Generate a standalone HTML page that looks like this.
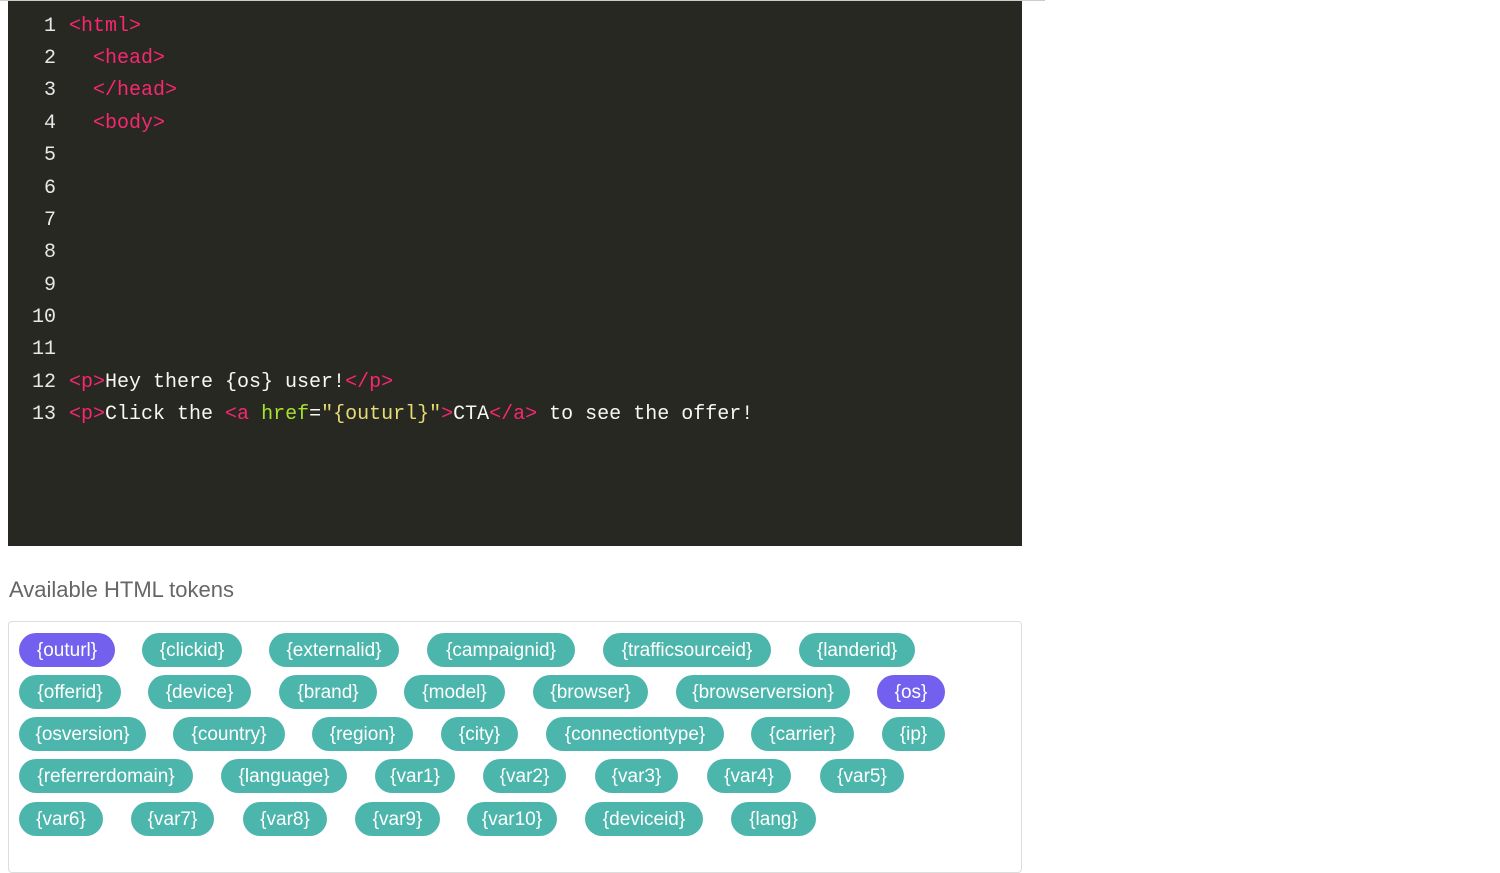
<!DOCTYPE html>
<html><head><meta charset="utf-8"><style>
body{margin:0;width:1500px;height:860px;background:#fff;position:relative;overflow:hidden;font-family:"Liberation Sans",sans-serif}
#topline{position:absolute;left:0;top:0;width:1045px;height:1px;background:#ccc}
#code{position:absolute;left:8px;top:1px;width:1014px;height:545px;background:#272822}
.ln{position:absolute;left:6px;width:50px;text-align:right;color:#e8e8e8;font:20px/32.4px "Liberation Mono",monospace}
.tx{position:absolute;left:69px;white-space:pre;color:#f8f8f2;font:20px/32.4px "Liberation Mono",monospace}
.t{color:#f92672}.a{color:#a6e22e}.s{color:#e6db74}
h3{position:absolute;left:9px;top:577px;margin:0;font-weight:normal;font-size:22px;color:#666}
#box{position:absolute;left:8px;top:621px;width:1012px;height:250px;border:1px solid #ddd;border-radius:4px}
.p{position:absolute;height:34px;line-height:36px;border-radius:17px;background:#4db6ac;color:#fff;font-size:19px;text-align:center}
.v{background:#7360ee}
</style></head><body>
<div id="topline"></div>
<div id="code">
</div>
<div class="ln" style="top:11px">1</div><div class="tx t" style="top:11px">&lt;html&gt;</div>
<div class="ln" style="top:43px">2</div><div class="tx t" style="top:43px">  &lt;head&gt;</div>
<div class="ln" style="top:75px">3</div><div class="tx t" style="top:75px">  &lt;/head&gt;</div>
<div class="ln" style="top:108px">4</div><div class="tx t" style="top:108px">  &lt;body&gt;</div>
<div class="ln" style="top:140px">5</div>
<div class="ln" style="top:173px">6</div>
<div class="ln" style="top:205px">7</div>
<div class="ln" style="top:237px">8</div>
<div class="ln" style="top:270px">9</div>
<div class="ln" style="top:302px">10</div>
<div class="ln" style="top:334px">11</div>
<div class="ln" style="top:367px">12</div><div class="tx" style="top:367px"><span class="t">&lt;p&gt;</span>Hey there {os} user!<span class="t">&lt;/p&gt;</span></div>
<div class="ln" style="top:399px">13</div><div class="tx" style="top:399px"><span class="t">&lt;p&gt;</span>Click the <span class="t">&lt;a </span><span class="a">href</span>=<span class="s">"{outurl}"</span><span class="t">&gt;</span>CTA<span class="t">&lt;/a&gt;</span> to see the offer!</div>
<h3>Available HTML tokens</h3>
<div id="box"></div>
<div class="p v" style="left:19px;top:633px;width:96px">{outurl}</div>
<div class="p" style="left:142px;top:633px;width:100px">{clickid}</div>
<div class="p" style="left:269px;top:633px;width:130px">{externalid}</div>
<div class="p" style="left:427px;top:633px;width:148px">{campaignid}</div>
<div class="p" style="left:603px;top:633px;width:168px">{trafficsourceid}</div>
<div class="p" style="left:799px;top:633px;width:116px">{landerid}</div>

<div class="p" style="left:19px;top:675px;width:102px">{offerid}</div>
<div class="p" style="left:148px;top:675px;width:103px">{device}</div>
<div class="p" style="left:279px;top:675px;width:98px">{brand}</div>
<div class="p" style="left:404px;top:675px;width:101px">{model}</div>
<div class="p" style="left:533px;top:675px;width:115px">{browser}</div>
<div class="p" style="left:676px;top:675px;width:174px">{browserversion}</div>
<div class="p v" style="left:877px;top:675px;width:68px">{os}</div>

<div class="p" style="left:19px;top:717px;width:127px">{osversion}</div>
<div class="p" style="left:173px;top:717px;width:112px">{country}</div>
<div class="p" style="left:312px;top:717px;width:101px">{region}</div>
<div class="p" style="left:441px;top:717px;width:77px">{city}</div>
<div class="p" style="left:546px;top:717px;width:178px">{connectiontype}</div>
<div class="p" style="left:751px;top:717px;width:103px">{carrier}</div>
<div class="p" style="left:882px;top:717px;width:63px">{ip}</div>

<div class="p" style="left:19px;top:759px;width:174px">{referrerdomain}</div>
<div class="p" style="left:221px;top:759px;width:126px">{language}</div>
<div class="p" style="left:375px;top:759px;width:80px">{var1}</div>
<div class="p" style="left:483px;top:759px;width:83px">{var2}</div>
<div class="p" style="left:595px;top:759px;width:83px">{var3}</div>
<div class="p" style="left:707px;top:759px;width:84px">{var4}</div>
<div class="p" style="left:820px;top:759px;width:84px">{var5}</div>

<div class="p" style="left:19px;top:802px;width:84px">{var6}</div>
<div class="p" style="left:131px;top:802px;width:83px">{var7}</div>
<div class="p" style="left:243px;top:802px;width:84px">{var8}</div>
<div class="p" style="left:355px;top:802px;width:85px">{var9}</div>
<div class="p" style="left:467px;top:802px;width:90px">{var10}</div>
<div class="p" style="left:585px;top:802px;width:118px">{deviceid}</div>
<div class="p" style="left:731px;top:802px;width:85px">{lang}</div>
</body></html>
